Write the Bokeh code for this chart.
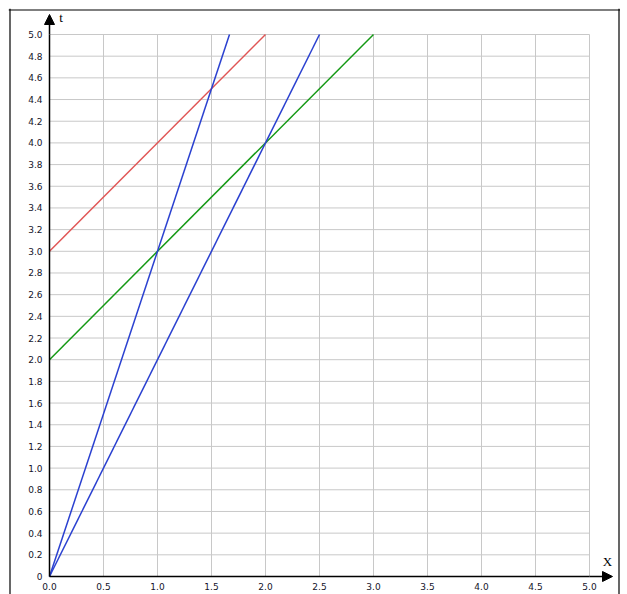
from bokeh.plotting import figure
from bokeh.models import Range1d, FixedTicker, Arrow, NormalHead, Label, Span
from bokeh.embed import file_html
from bokeh.resources import INLINE

# data: straight lines (x, t)
red_x = [0, 2]
red_t = [3, 5]
green_x = [0, 3]
green_t = [2, 5]
blue1_x = [0, 5 / 3]
blue1_t = [0, 5]
blue2_x = [0, 2.5]
blue2_t = [0, 5]

x_ticks = [0, 0.5, 1, 1.5, 2, 2.5, 3, 3.5, 4, 4.5, 5]
x_labels = ["0.0", "0.5", "1.0", "1.5", "2.0", "2.5", "3.0", "3.5", "4.0", "4.5", "5.0"]
y_ticks = [round(i * 0.2, 1) for i in range(26)]
y_labels = ["0"] + ["%.1f" % v for v in y_ticks[1:]]
x_min, x_max = 0, 5
t_min, t_max = 0, 5

p = figure(width=620, height=594, output_backend="svg", toolbar_location=None,
           x_range=Range1d(-0.37963, 5.28704), y_range=Range1d(-0.1661, 5.23985),
           min_border_left=8, min_border_right=0, min_border_top=8, min_border_bottom=0)
p.outline_line_color = None
p.background_fill_color = "white"
p.border_fill_color = "white"
p.grid.visible = False

# outer border (left, top, right)
p.add_layout(Span(location=-0.36574, dimension="height", line_color="black", line_width=1.2))
p.add_layout(Span(location=5.27315, dimension="height", line_color="black", line_width=1.2))
p.add_layout(Span(location=5.22601, dimension="width", line_color="black", line_width=1.2))

# grid lines limited to the 0..5 square
p.segment(x0=x_ticks, y0=[t_min] * len(x_ticks), x1=x_ticks, y1=[t_max] * len(x_ticks),
          line_color="#c8c8c8", line_width=1)
p.segment(x0=[x_min] * len(y_ticks), y0=y_ticks, x1=[x_max] * len(y_ticks), y1=y_ticks,
          line_color="#c8c8c8", line_width=1)

for ax in (p.xaxis[0], p.yaxis[0]):
    ax.fixed_location = 0
    ax.bounds = (0, 5)
    ax.axis_line_color = "black"
    ax.axis_line_width = 1.5
    ax.major_tick_line_color = None
    ax.minor_tick_line_color = None
    ax.major_tick_out = 0
    ax.major_tick_in = 0
    ax.major_label_text_font = "DejaVu Sans"
    ax.major_label_text_font_size = "9px"
    ax.major_label_text_color = "#14142a"

p.xaxis.ticker = FixedTicker(ticks=x_ticks)
p.xaxis.major_label_overrides = {t: l for t, l in zip(x_ticks, x_labels)}
p.xaxis.major_label_standoff = 7
p.yaxis.ticker = FixedTicker(ticks=y_ticks)
p.yaxis.major_label_overrides = {t: l for t, l in zip(y_ticks, y_labels)}
p.yaxis.major_label_standoff = 7

p.line(red_x, red_t, line_color="#e05555", line_width=1.5)
p.line(green_x, green_t, line_color="#149914", line_width=1.5)
p.line(blue1_x, blue1_t, line_color="#2a40d0", line_width=1.5)
p.line(blue2_x, blue2_t, line_color="#2a40d0", line_width=1.5)

# axis arrows
p.add_layout(Arrow(x_start=0, y_start=5, x_end=0, y_end=5.1845, line_color="black", line_width=1.5,
                   end=NormalHead(size=10, fill_color="black", line_color="black", line_width=1)))
p.add_layout(Arrow(x_start=5, y_start=0, x_end=5.213, y_end=0, line_color="black", line_width=1.5,
                   end=NormalHead(size=10, fill_color="black", line_color="black", line_width=1)))

p.add_layout(Label(x=0.09, y=5.157, text="t", text_font="Liberation Serif", text_font_size="13px",
                   text_color="black", text_baseline="middle", text_align="left"))
p.add_layout(Label(x=5.167, y=0.138, text="X", text_font="Liberation Serif", text_font_size="13px",
                   text_color="black", text_baseline="middle", text_align="center"))

open("out.html", "w").write(file_html(p, INLINE))
